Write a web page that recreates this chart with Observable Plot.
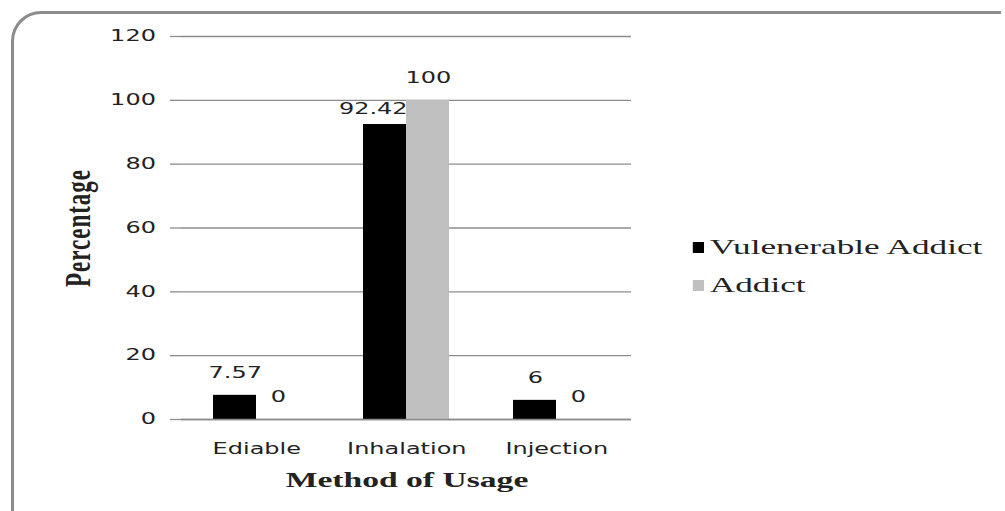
<!DOCTYPE html>
<html>
<head>
<meta charset="utf-8">
<script src="https://cdn.jsdelivr.net/npm/d3@7"></script>
<script src="https://cdn.jsdelivr.net/npm/@observablehq/plot@0.6"></script>
<style>
  html, body { margin: 0; padding: 0; background: #fff; }
  #page { position: relative; width: 1005px; height: 511px; overflow: hidden; background: #fff; }
  #frame { position: absolute; left: 11px; top: 11px; width: 990px; height: 520px;
           border-top: 3px solid #8c8c8c; border-left: 3px solid #8c8c8c; border-top-left-radius: 30px; box-sizing: border-box; }
  #stretch { position: absolute; left: 0; top: 0; width: 628.125px; height: 511px; transform: scaleX(1.6); transform-origin: 0 0; }
  #stretch svg { position: absolute; left: 0; top: 0; }
  .legend-row { position: absolute; display: flex; align-items: center; font-family: "Liberation Serif", serif; font-size: 22px; color: #222; white-space: nowrap; transform: translateY(-50%); }
  .legend-row .sw { width: 6.9px; height: 11px; margin-right: 3.6px; }
  #xtitle { position: absolute; font-family: "Liberation Serif", serif; font-weight: bold; font-size: 21px; color: #222; white-space: nowrap; transform: translate(-50%, -50%); }
  #ytitle { position: absolute; font-family: "Liberation Serif", serif; font-weight: bold; font-size: 23px; letter-spacing: 1px; color: #222; white-space: nowrap; transform: translate(-50%, -50%) rotate(-90deg); }
</style>
</head>
<body>
<div id="page">
  <div id="frame"></div>
  <div id="stretch"></div>
</div>
<script>
// ---- data ----
const methods = ["Ediable", "Inhalation", "Injection"];
const seriesNames = ["Vulenerable Addict", "Addict"];
const vulnerableValues = [7.57, 92.42, 6];
const addictValues = [0, 100, 0];
const yTicks = [0, 20, 40, 60, 80, 100, 120];
const xTitle = "Method of Usage";
const yTitle = "Percentage";
const seriesColors = ["#000000", "#c0c0c0"];

const rows = methods.flatMap((m, i) => [
  {method: m, series: seriesNames[0], value: vulnerableValues[i]},
  {method: m, series: seriesNames[1], value: addictValues[i]}
]);

// a shorter bar label next to a taller nonzero neighbour is nudged (as the source chart does)
const nudged = d => {
  const other = rows.find(o => o.method === d.method && o.series !== d.series);
  return d.value > 0 && other.value > d.value;
};

const S = 1.6;            // horizontal stretch of the source image
const W = 1005 / S;

const chart = Plot.plot({
  width: W,
  height: 511,
  marginLeft: 181 / S,
  marginRight: W - 631 / S,
  marginTop: 36,
  marginBottom: 92,
  style: {fontFamily: "'DejaVu Sans', Verdana, sans-serif", fontSize: "15px", color: "#222", background: "transparent", overflow: "visible"},
  fx: {domain: methods, padding: 0, round: false, label: null},
  x: {domain: seriesNames, paddingInner: 0, paddingOuter: 0.744, round: false, axis: null},
  y: {domain: [0, 120], ticks: yTicks, label: null},
  color: {domain: seriesNames, range: seriesColors},
  marks: [
    Plot.gridY(yTicks, {stroke: "#8c8c8c", strokeOpacity: 1, strokeWidth: 1.3}),
    Plot.barY(rows, {fx: "method", x: "series", y: "value", fill: "series"}),
    Plot.ruleY([0], {stroke: "#8c8c8c", strokeWidth: 1.6}),
    Plot.axisY(yTicks, {anchor: "left", tickSize: 11 / S, tickPadding: 9.3, stroke: "#8c8c8c", strokeWidth: 1.3, fill: "#222", line: true, label: null, fontSize: 15}),
    Plot.axisFx({anchor: "bottom", tickSize: 0, tickPadding: 24, label: null, fontSize: 15, fill: "#222"}),
    Plot.text(rows.filter(d => !nudged(d)), {fx: "method", x: "series", y: "value", text: d => String(d.value), dy: -22, fill: "#222", fontSize: 15}),
    Plot.text(rows.filter(nudged), {fx: "method", x: "series", y: "value", text: d => String(d.value), dx: -12 / S, dy: -15, fill: "#222", fontSize: 15})
  ]
});

const stretch = document.getElementById("stretch");
stretch.appendChild(chart);

// legend (colours taken from the chart's colour scale)
const colorScale = chart.scale("color");
colorScale.domain.forEach((name, i) => {
  const row = document.createElement("div");
  row.className = "legend-row";
  row.style.left = (693 / S) + "px";
  row.style.top = (247 + i * 38) + "px";
  const sw = document.createElement("span");
  sw.className = "sw";
  sw.style.background = colorScale.range[i];
  const label = document.createElement("span");
  label.textContent = name;
  row.appendChild(sw);
  row.appendChild(label);
  stretch.appendChild(row);
});

const xt = document.createElement("div");
xt.id = "xtitle";
xt.textContent = xTitle;
xt.style.left = (407 / S) + "px";
xt.style.top = "480px";
stretch.appendChild(xt);

const yt = document.createElement("div");
yt.id = "ytitle";
yt.textContent = yTitle;
yt.style.left = (78 / S) + "px";
yt.style.top = "228px";
stretch.appendChild(yt);
</script>
</body>
</html>
